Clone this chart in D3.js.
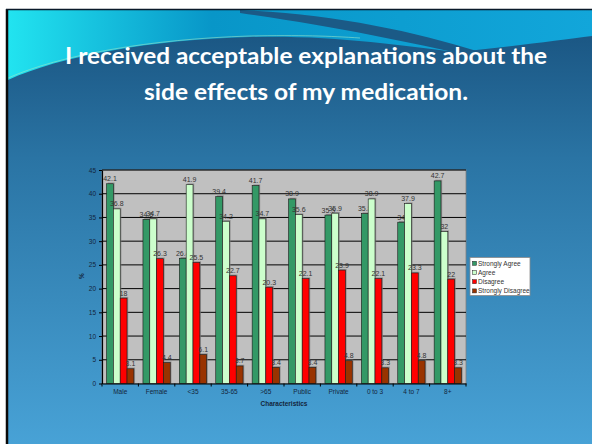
<!DOCTYPE html>
<html>
<head>
<meta charset="utf-8">
<script src="https://cdn.jsdelivr.net/npm/d3@7"></script>
<style>
  body { margin: 0; background: #fff; }
  svg { display: block; }
</style>
</head>
<body>
<svg width="592" height="444"></svg>
<script>
var categories = ["Male", "Female", "<35", "35-65", ">65", "Public", "Private", "0 to 3", "4 to 7", "8+"];
var seriesNames = ["Strongly Agree", "Agree", "Disagree", "Strongly Disagree"];
var stronglyAgree    = [42.1, 34.6, 26.4, 39.4, 41.7, 38.9, 35.5, 35.8, 34, 42.7];
var agree            = [36.8, 34.7, 41.9, 34.2, 34.7, 35.6, 35.9, 38.9, 37.9, 32];
var disagree         = [18, 26.3, 25.5, 22.7, 20.3, 22.1, 23.9, 22.1, 23.3, 22];
var stronglyDisagree = [3.1, 4.4, 6.1, 3.7, 3.4, 3.4, 4.8, 3.3, 4.8, 3.3];
var yTicks = [0, 5, 10, 15, 20, 25, 30, 35, 40, 45];
var titleLines = ["I received acceptable explanations about the", "side effects of my medication."];

var series = [stronglyAgree, agree, disagree, stronglyDisagree];
var colors = ["#339966", "#ccffcc", "#ff0000", "#993300"];

var width = 592;
var height = 444;
var plot = {left: 102, right: 466, top: 170, bottom: 383.5};

var svg = d3.select("svg");
var defs = svg.append("defs");

// slide background
var bodyGrad = defs.append("linearGradient").attr("id", "bodyGrad")
  .attr("x1", 0).attr("y1", 0).attr("x2", 0).attr("y2", 1);
bodyGrad.append("stop").attr("offset", "0%").attr("stop-color", "#1b5784");
bodyGrad.append("stop").attr("offset", "30%").attr("stop-color", "#2a74a4");
bodyGrad.append("stop").attr("offset", "100%").attr("stop-color", "#48a2d6");

var topGrad = defs.append("linearGradient").attr("id", "topGrad")
  .attr("x1", 0).attr("y1", 0).attr("x2", 1).attr("y2", 0);
topGrad.append("stop").attr("offset", "0%").attr("stop-color", "#22e4f0");
topGrad.append("stop").attr("offset", "35%").attr("stop-color", "#0896c8");
topGrad.append("stop").attr("offset", "100%").attr("stop-color", "#12a6da");

svg.append("rect").attr("x", 0).attr("y", 0).attr("width", width).attr("height", height).attr("fill", "#fff");
svg.append("rect").attr("x", 7).attr("y", 9).attr("width", width - 7).attr("height", height - 9).attr("fill", "url(#topGrad)");

svg.append("path")
  .attr("d", "M240,10 C330,14 410,30 480,52 L480,58 C400,40 330,26 240,13 Z")
  .attr("fill", "#1b5a86");

svg.append("path")
  .attr("d", "M8,80 C60,56 150,40 250,37 C330,35 400,45 455,52 C510,47 560,40 592,36 L592,444 L8,444 Z")
  .attr("fill", "url(#bodyGrad)");

svg.append("path")
  .attr("d", "M8,78 C60,55 150,39 250,36 C300,35 330,36 360,38")
  .attr("fill", "none").attr("stroke", "#9fe8c8").attr("stroke-width", 0.8).attr("opacity", 0.7);

// frame
svg.append("line").attr("x1", 7).attr("x2", 7).attr("y1", 9).attr("y2", height)
  .attr("stroke", "#0a0a0a").attr("stroke-width", 2.5);
svg.append("line").attr("x1", 6).attr("x2", width).attr("y1", 9.5).attr("y2", 9.5)
  .attr("stroke", "#0a1a2a").attr("stroke-width", 1.5);

// title
svg.selectAll("text.title")
  .data(titleLines)
  .enter()
  .append("text")
  .attr("class", "title")
  .attr("x", 306)
  .attr("y", function (d, i) { return 64 + i * 36; })
  .attr("text-anchor", "middle")
  .attr("textLength", function (d, i) { return i === 0 ? 482 : 324; })
  .attr("lengthAdjust", "spacingAndGlyphs")
  .style("font-family", "Lato, 'Open Sans', sans-serif")
  .style("font-weight", "bold")
  .style("font-size", "22px")
  .style("fill", "#ffffff")
  .text(function (d) { return d; });

// scales
var x0 = d3.scaleBand().domain(categories).range([plot.left, plot.right])
  .paddingInner(0.25).paddingOuter(0.125);
var x1 = d3.scaleBand().domain(d3.range(series.length)).range([0, x0.bandwidth()]);
var y = d3.scaleLinear().domain([0, 45]).range([plot.bottom, plot.top]);

// plot area
svg.append("rect")
  .attr("x", plot.left).attr("y", plot.top)
  .attr("width", plot.right - plot.left).attr("height", plot.bottom - plot.top)
  .attr("fill", "#c0c0c0")
  .attr("stroke", "#808080").attr("stroke-width", 0.8);

svg.append("g").selectAll("line")
  .data(yTicks.filter(function (t) { return t > 0; }))
  .enter()
  .append("line")
  .attr("x1", plot.left).attr("x2", plot.right)
  .attr("y1", function (d) { return y(d); })
  .attr("y2", function (d) { return y(d); })
  .attr("stroke", "#000").attr("stroke-width", 1);

// bars
var groups = svg.append("g").selectAll("g")
  .data(categories)
  .enter()
  .append("g")
  .attr("transform", function (d) { return "translate(" + x0(d) + ",0)"; });

var cells = groups.selectAll("g")
  .data(function (d, ci) {
    return series.map(function (s, si) { return {si: si, v: s[ci]}; });
  })
  .enter()
  .append("g");

cells.append("rect")
  .attr("x", function (d) { return x1(d.si) + 1.2; })
  .attr("y", function (d) { return y(d.v) - 1.2; })
  .attr("width", x1.bandwidth())
  .attr("height", function (d) { return plot.bottom - y(d.v) + 1.2; })
  .attr("fill", "#7a7a7a").attr("opacity", 0.7);

cells.append("rect")
  .attr("x", function (d) { return x1(d.si); })
  .attr("y", function (d) { return y(d.v); })
  .attr("width", x1.bandwidth())
  .attr("height", function (d) { return plot.bottom - y(d.v); })
  .attr("fill", function (d) { return colors[d.si]; })
  .attr("stroke", "#1a1a1a").attr("stroke-width", 0.6);

cells.append("text")
  .attr("x", function (d) { return x1(d.si) + x1.bandwidth() / 2; })
  .attr("y", function (d) { return y(d.v) - 2.5; })
  .attr("text-anchor", "middle")
  .style("font-family", "'Liberation Sans', Arial, sans-serif")
  .style("font-size", "7px")
  .style("fill", "#333")
  .text(function (d) { return d.v; });

// axes
var axisLeft = d3.axisLeft(y).tickValues(yTicks).tickSize(3).tickSizeOuter(0);
var gy = svg.append("g")
  .attr("transform", "translate(" + plot.left + ",0)")
  .call(axisLeft);
gy.selectAll("text")
  .style("font-family", "'Liberation Sans', Arial, sans-serif")
  .style("font-size", "6.5px")
  .style("fill", "#13263c");

var axisBottom = d3.axisBottom(x0).tickSize(0).tickPadding(6);
var gx = svg.append("g")
  .attr("transform", "translate(0," + plot.bottom + ")")
  .call(axisBottom);
gx.selectAll("text")
  .style("font-family", "'Liberation Sans', Arial, sans-serif")
  .style("font-size", "6.5px")
  .style("fill", "#13263c");

var step = x0.step();
var bounds = categories.map(function (c) { return x0(c) - step * x0.paddingInner() / 2; });
bounds.push(plot.right);
gx.selectAll("line.bound")
  .data(bounds)
  .enter()
  .append("line")
  .attr("class", "bound")
  .attr("x1", function (d) { return d; }).attr("x2", function (d) { return d; })
  .attr("y1", 0).attr("y2", 3)
  .attr("stroke", "#000");

svg.selectAll(".domain").attr("stroke", "#000").attr("stroke-width", 1.2);
svg.selectAll(".tick line").attr("stroke", "#000");

// axis titles
svg.append("text")
  .attr("x", (plot.left + plot.right) / 2)
  .attr("y", 406)
  .attr("text-anchor", "middle")
  .style("font-family", "'Liberation Sans', Arial, sans-serif")
  .style("font-size", "6.5px")
  .style("font-weight", "bold")
  .style("fill", "#13263c")
  .text("Characteristics");

svg.append("text")
  .attr("transform", "translate(84,276) rotate(-90)")
  .attr("text-anchor", "middle")
  .style("font-family", "'Liberation Sans', Arial, sans-serif")
  .style("font-size", "6.5px")
  .style("font-weight", "bold")
  .style("fill", "#13263c")
  .text("%");

// legend
var legend = svg.append("g").attr("transform", "translate(470,257.5)");
legend.append("rect")
  .attr("width", 60).attr("height", 38)
  .attr("fill", "#fff").attr("stroke", "#8a8a8a").attr("stroke-width", 0.8);

var items = legend.selectAll("g.item")
  .data(seriesNames)
  .enter()
  .append("g")
  .attr("class", "item")
  .attr("transform", function (d, i) { return "translate(2," + (5.8 + i * 9.2) + ")"; });

items.append("rect")
  .attr("x", 0.5).attr("y", -2)
  .attr("width", 4).attr("height", 4)
  .attr("fill", function (d, i) { return colors[i]; })
  .attr("stroke", "#222").attr("stroke-width", 0.5);

items.append("text")
  .attr("x", 6).attr("y", 2.3)
  .style("font-family", "'Liberation Sans', Arial, sans-serif")
  .style("font-size", "6.5px")
  .style("fill", "#333")
  .text(function (d) { return d; });
</script>
</body>
</html>
